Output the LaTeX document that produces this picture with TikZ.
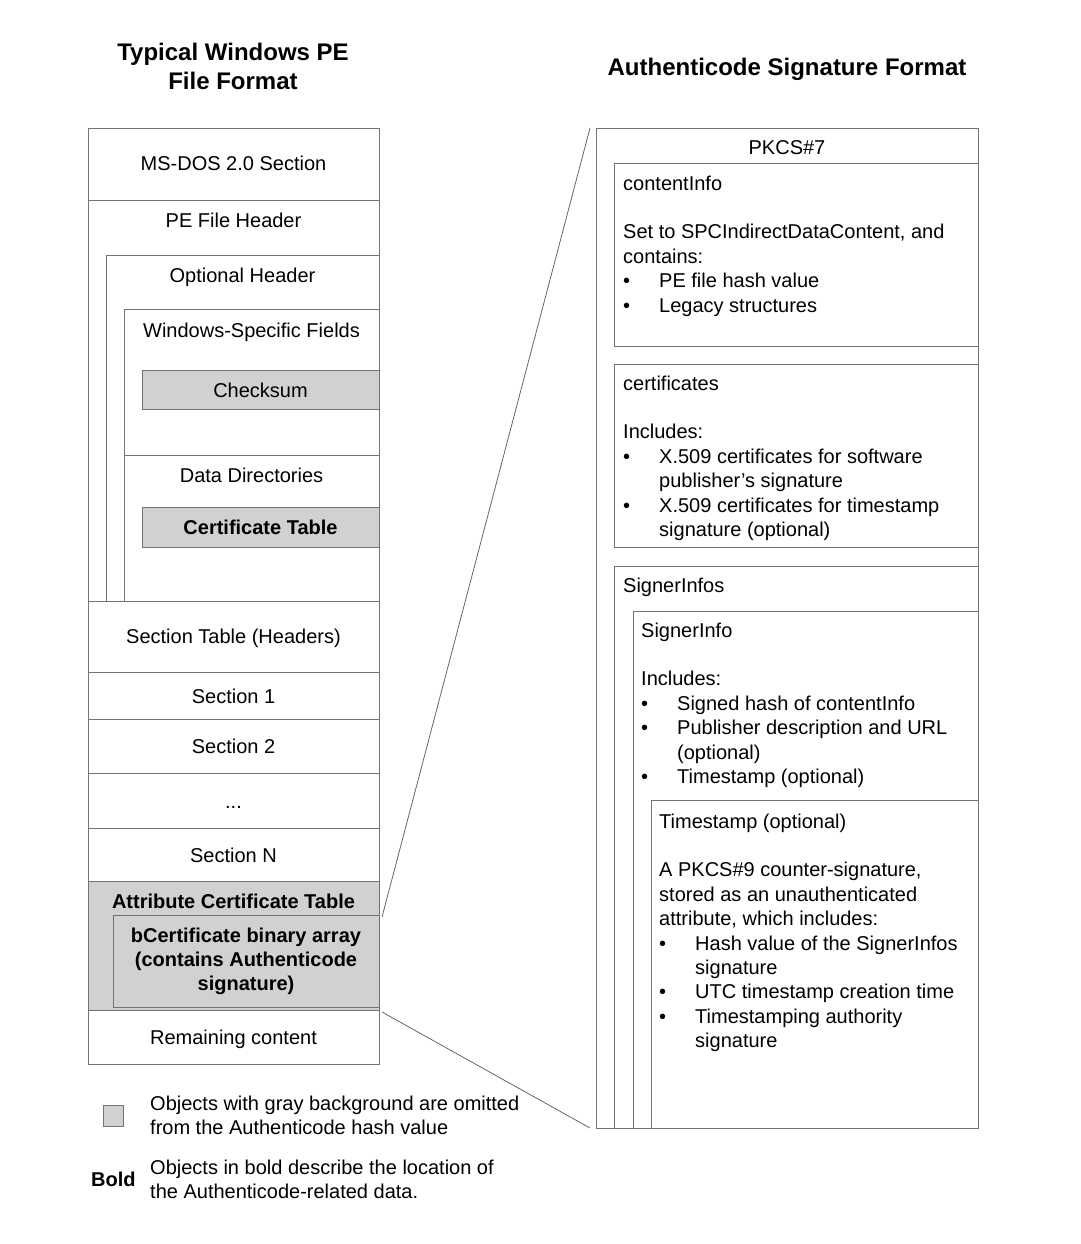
\documentclass[tikz,border=0pt]{standalone}
\usepackage{fontspec}
\setmainfont{Liberation Sans}
\newcommand{\bul}{\makebox[36pt][l]{\textbullet}}
\newcommand{\ind}{\hspace*{36pt}}
\begin{document}
\begin{tikzpicture}[x=1pt,y=-1pt,
  box/.style={draw=black!55, line width=0.9pt, anchor=north west, inner sep=0pt, outer sep=0pt, fill=white},
  graybox/.style={box, fill=black!18},
  txt/.style={inner sep=0pt, font=\fontsize{20}{24.4}\selectfont, align=left},
  btxt/.style={txt, font=\fontsize{20}{24.4}\selectfont\bfseries},
  ttl/.style={inner sep=0pt, font=\fontsize{24}{29}\selectfont\bfseries, align=center},
  conn/.style={draw=black!60, line width=0.8pt}]
\useasboundingbox (0,0) rectangle (1080,1244);
% ---------- titles (multi-line nodes: base = baseline of last line)
\node[ttl, anchor=base] (t1) at (233,90) {Typical Windows PE\\File Format};
\node[ttl, anchor=base] (t2) at (787,76) {Authenticode Signature Format};
% ---------- left column boxes
\node[box, minimum width=291pt, minimum height=936pt] (pe) at (88,128) {};
\node[box, minimum width=291pt, minimum height=72pt] (msdos) at (88,128) {};
\node[box, minimum width=291pt, minimum height=401pt] (pehdr) at (88,200) {};
\node[box, minimum width=273pt, minimum height=346pt] (opt) at (106,255) {};
\node[box, minimum width=255pt, minimum height=146pt] (win) at (124,309) {};
\node[graybox, minimum width=237pt, minimum height=39pt] (chk) at (142,370) {};
\node[box, minimum width=255pt, minimum height=146pt] (dd) at (124,455) {};
\node[graybox, minimum width=237pt, minimum height=40pt] (ct) at (142,507) {};
\node[box, minimum width=291pt, minimum height=71pt] (sectab) at (88,601) {};
\node[box, minimum width=291pt, minimum height=47pt] (s1) at (88,672) {};
\node[box, minimum width=291pt, minimum height=54pt] (s2) at (88,719) {};
\node[box, minimum width=291pt, minimum height=55pt] (sdots) at (88,773) {};
\node[box, minimum width=291pt, minimum height=53pt] (sn) at (88,828) {};
\node[graybox, minimum width=291pt, minimum height=129pt] (act) at (88,881) {};
\node[graybox, minimum width=266pt, minimum height=92pt] (bcert) at (113,915) {};
\node[box, minimum width=291pt, minimum height=54pt] (rem) at (88,1010) {};
% ---------- left column texts
\node[txt, anchor=base] (lms) at (233.5,170) {MS-DOS 2.0 Section};
\node[txt, anchor=base] (lpe) at (233.5,227) {PE File Header};
\node[txt, anchor=base] (lopt) at (242.5,282) {Optional Header};
\node[txt, anchor=base] (lwin) at (251.5,337) {Windows-Specific Fields};
\node[txt, anchor=base] (lchk) at (260.5,397) {Checksum};
\node[txt, anchor=base] (ldd) at (251.5,482) {Data Directories};
\node[btxt, anchor=base] (lct) at (260.5,534) {Certificate Table};
\node[txt, anchor=base] (lst) at (233.5,643) {Section Table (Headers)};
\node[txt, anchor=base] (ls1) at (233.5,703) {Section 1};
\node[txt, anchor=base] (ls2) at (233.5,753) {Section 2};
\node[txt, anchor=base] (lsd) at (233.5,808) {...};
\node[txt, anchor=base] (lsn) at (233.5,862) {Section N};
\node[btxt, anchor=base] (lact) at (233.5,908) {Attribute Certificate Table};
\node[btxt, anchor=base, align=center] (lbc) at (246,990.8) {bCertificate binary array\\(contains Authenticode\\signature)};
\node[txt, anchor=base] (lrem) at (233.5,1044) {Remaining content};
% ---------- legend
\node[graybox, minimum width=20pt, minimum height=21pt] (leg1) at (103,1105) {};
\node[txt, anchor=base west] (leg1t) at (150,1134.4) {Objects with gray background are omitted\\from the Authenticode hash value};
\node[btxt, anchor=base west] (leg2) at (91,1186) {Bold};
\node[txt, anchor=base west] (leg2t) at (150,1198.4) {Objects in bold describe the location of\\the Authenticode-related data.};
% ---------- right column boxes
\node[box, minimum width=382pt, minimum height=1000pt] (pkcs) at (596,128) {};
\node[box, minimum width=364pt, minimum height=183pt] (ci) at (614,163) {};
\node[box, minimum width=364pt, minimum height=183pt] (cert) at (614,364) {};
\node[box, minimum width=364pt, minimum height=562pt] (sis) at (614,566) {};
\node[box, minimum width=345pt, minimum height=517pt] (si) at (633,611) {};
\node[box, minimum width=327pt, minimum height=328pt] (ts) at (651,800) {};
% ---------- right column texts
\node[txt, anchor=base] (rpk) at (787,154) {PKCS\#7};
\node[txt, anchor=base west] (rci) at (623,312) {contentInfo\\[24.4pt]Set to SPCIndirectDataContent, and\\contains:\\\bul PE file hash value\\\bul Legacy structures};
\node[txt, anchor=base west] (rcert) at (623,536.4) {certificates\\[24.4pt]Includes:\\\bul X.509 certificates for software\\\ind publisher’s signature\\\bul X.509 certificates for timestamp\\\ind signature (optional)};
\node[txt, anchor=base west] (rsis) at (623,592) {SignerInfos};
\node[txt, anchor=base west] (rsi) at (641,783.4) {SignerInfo\\[24.4pt]Includes:\\\bul Signed hash of contentInfo\\\bul Publisher description and URL\\\ind (optional)\\\bul Timestamp (optional)};
\node[txt, anchor=base west] (rts) at (659,1047.6) {Timestamp (optional)\\[24.4pt]A PKCS\#9 counter-signature,\\stored as an unauthenticated\\attribute, which includes:\\\bul Hash value of the SignerInfos\\\ind signature\\\bul UTC timestamp creation time\\\bul Timestamping authority\\\ind signature};
% ---------- connectors
\draw[conn] ([xshift=3pt,yshift=-2pt]bcert.north east) -- ([xshift=-6pt]pkcs.north west);
\draw[conn] ([xshift=3pt,yshift=-2pt]act.south east) -- ([xshift=-6pt]pkcs.south west);
\end{tikzpicture}
\end{document}
